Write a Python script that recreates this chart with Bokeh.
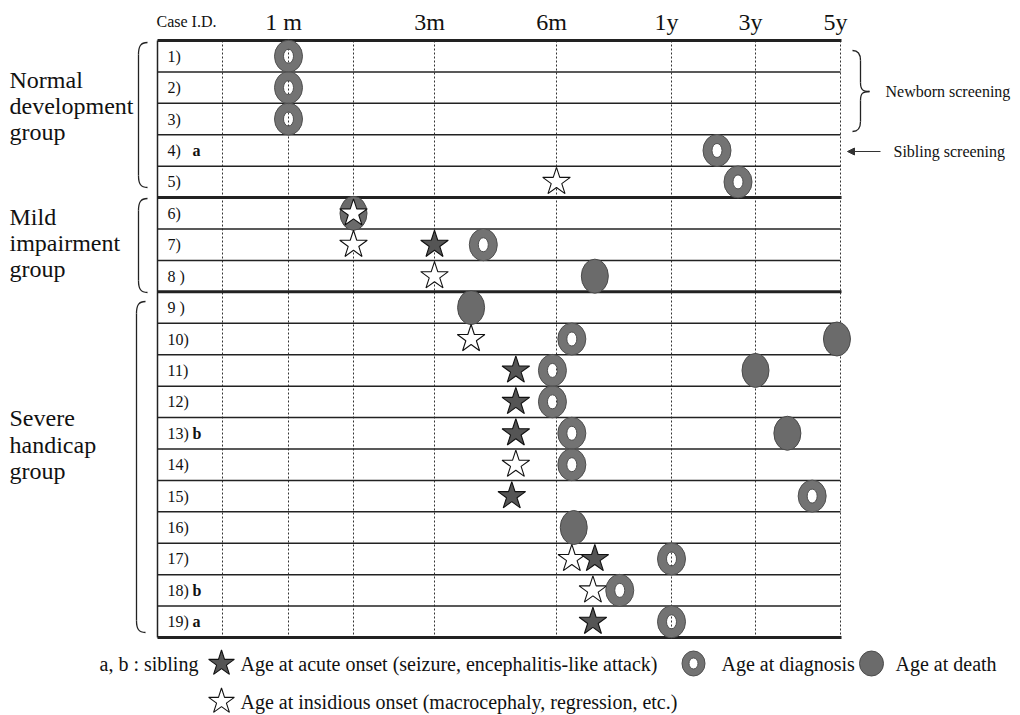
import numpy as np
from bokeh.plotting import figure
from bokeh.models import Range1d, Arrow, NormalHead
from bokeh.core.properties import value
from bokeh.embed import file_html
from bokeh.resources import INLINE

# ---------------- data ----------------
CASE_LABELS = ["1)", "2)", "3)", "4)", "5)", "6)", "7)", "8 )", "9 )", "10)",
               "11)", "12)", "13)", "14)", "15)", "16)", "17)", "18)", "19)"]
SIBLING_MARK = ["", "", "", "a", "", "", "", "", "", "",
                "", "", "b", "", "", "", "", "b", "a"]

TICK_AGES = [1, 3, 6, 12, 36, 60]          # months
TICK_LABELS = ["1 m", "3m", "6m", "1y", "3y", "5y"]

# Age at diagnosis (months)
DIAG_CASE = [1, 2, 3, 4, 5, 7, 10, 11, 12, 13, 14, 15, 17, 18, 19]
DIAG_AGE = [1, 1, 1, 25, 31, 4.2, 6.8, 5.9, 5.9, 6.8, 6.8, 52, 12, 9.3, 12]

# Age at death (months)
DEATH_CASE = [6, 8, 9, 10, 11, 13, 16]
DEATH_AGE = [2, 8, 3.9, 59, 36, 45, 6.9]

# Age at acute onset (months)
ACUTE_CASE = [7, 11, 12, 13, 15, 17, 19]
ACUTE_AGE = [3, 5, 5, 5, 4.9, 8, 7.9]

# Age at insidious onset (months)
INSID_CASE = [5, 6, 7, 8, 10, 14, 17, 18]
INSID_AGE = [6, 2, 2, 3, 3.9, 5, 6.8, 7.9]

GROUP_LINES = [["Normal", "development", "group"],
               ["Mild", "impairment", "group"],
               ["Severe", "handicap", "group"]]

# ---------------- layout ----------------
W, H = 1012, 715
SERIF = "Liberation Serif"
AGE_BREAKS = [0, 1, 2, 3, 6, 12, 36, 60]
X_BREAKS = [222, 288, 353, 434, 556, 671, 755, 840]   # px of grid lines
TABLE_L, TABLE_R = 157, 840
TABLE_T, TABLE_B = 40, 637
NROW = len(CASE_LABELS)
RH = (TABLE_B - TABLE_T) / NROW


def xpos(age):
    return np.interp(age, AGE_BREAKS, X_BREAKS)


def ry(Y):
    return 0.5 + (Y - TABLE_T) / RH


p = figure(width=W, height=H, x_range=Range1d(0, W), y_range=Range1d(ry(H), ry(0)),
           output_backend="svg", toolbar_location=None,
           x_axis_location=None, y_axis_location=None,
           min_border_left=0, min_border_right=0, min_border_top=0, min_border_bottom=0)
p.outline_line_color = None
p.grid.visible = False
p.background_fill_color = "white"

# header: time scale labels (placed through the age scale) and case column title
p.text(x=list(xpos(TICK_AGES) - 5), y=[ry(21)] * len(TICK_AGES), text=TICK_LABELS,
       text_font=value(SERIF), text_font_size="24px", text_align="center",
       text_baseline="middle", text_color="#111")
p.text(x=[186], y=[ry(21)], text=["Case I.D."], text_font=value(SERIF), text_font_size="16px",
       text_align="center", text_baseline="middle", text_color="#111")

# grid (dotted verticals)
gx = list(X_BREAKS)
p.segment(x0=gx, y0=[0.5] * len(gx), x1=gx, y1=[NROW + 0.5] * len(gx),
          line_color="#333", line_width=1, line_dash="2 2")
# left border
p.segment(x0=[TABLE_L], y0=[0.5], x1=[TABLE_L], y1=[NROW + 0.5], line_color="#222", line_width=1.5)

# horizontal rules
bounds = np.arange(0.5, NROW + 1, 1.0)
thick = [0.5, 5.5, 8.5, NROW + 0.5]
thin = [b for b in bounds if b not in thick]
p.segment(x0=[TABLE_L] * len(thin), y0=thin, x1=[TABLE_R] * len(thin), y1=thin,
          line_color="#222", line_width=1.5)
p.segment(x0=[TABLE_L] * len(thick), y0=thick, x1=[TABLE_R + 1] * len(thick), y1=thick,
          line_color="#222", line_width=3)

# row labels
rows = list(range(1, NROW + 1))
p.text(x=[167] * NROW, y=rows, text=CASE_LABELS, text_font=value(SERIF), text_font_size="16px",
       text_baseline="middle", text_align="left", text_color="#111")
sr = [r for r, s in zip(rows, SIBLING_MARK) if s]
ss = [s for s in SIBLING_MARK if s]
p.text(x=[192] * len(sr), y=sr, text=ss, text_font=value(SERIF), text_font_size="16px",
       text_font_style="bold", text_baseline="middle", text_align="left", text_color="#111")

# group labels
GROUP_Y = [[79, 105, 131], [216, 242, 268], [417, 444, 470]]
for lines, ys in zip(GROUP_LINES, GROUP_Y):
    p.text(x=[9] * 3, y=[ry(v) for v in ys], text=lines, text_font=value(SERIF),
           text_font_size="24px", text_baseline="middle", text_align="left", text_color="#111")


# left brackets
def bracket(top, bot, xv=138, xe=147, r=12):
    t, b = top, bot
    p.bezier(x0=[xe, xv], y0=[ry(t), ry(b - r)], x1=[xv, xe], y1=[ry(t + r), ry(b)],
             cx0=[xv + 2, xv], cy0=[ry(t), ry(b - 4)], cx1=[xv, xv + 2], cy1=[ry(t + 4), ry(b)],
             line_color="#222", line_width=1.3)
    p.segment(x0=[xv], y0=[ry(t + r)], x1=[xv], y1=[ry(b - r)], line_color="#222", line_width=1.3)


bracket(42, 187)
bracket(198, 292)
bracket(301, 632, xv=136, xe=145)

# right brace
bx0, bxv, bxt = 852, 860, 869
bt, bm, bb = 50, 91, 131
p.bezier(x0=[bx0, bxv, bxt, bxv], y0=[ry(bt), ry(bm - 9), ry(bm), ry(bb - 10)],
         x1=[bxv, bxt, bxv, bx0], y1=[ry(bt + 10), ry(bm), ry(bm + 9), ry(bb)],
         cx0=[bxv - 2, bxv, bxv + 2, bxv], cy0=[ry(bt), ry(bm - 2), ry(bm), ry(bb - 4)],
         cx1=[bxv, bxv + 2, bxv, bxv - 2], cy1=[ry(bt + 4), ry(bm), ry(bm + 2), ry(bb)],
         line_color="#222", line_width=1.3)
p.segment(x0=[bxv, bxv], y0=[ry(bt + 10), ry(bm + 9)], x1=[bxv, bxv], y1=[ry(bm - 9), ry(bb - 10)],
          line_color="#222", line_width=1.3)
p.text(x=[885], y=[ry(91)], text=["Newborn screening"], text_font=value(SERIF),
       text_font_size="16px", text_baseline="middle", text_color="#111")
p.add_layout(Arrow(end=NormalHead(size=7, fill_color="#333", line_color="#333"),
                   x_start=880, y_start=ry(151), x_end=847, y_end=ry(151),
                   line_color="#333", line_width=1.2))
p.text(x=[893], y=[ry(151)], text=["Sibling screening"], text_font=value(SERIF),
       text_font_size="16px", text_baseline="middle", text_color="#111")

# ---------------- markers ----------------
DEATH_FILL, DEATH_LINE = "#6b6b6b", "#4a4a4a"
RING_COL = "#737373"
STAR_DARK = "#555555"


def death(xs, ys, w=27, h=34):
    p.ellipse(x=xs, y=ys, width=w, height=h, width_units="screen", height_units="screen",
              fill_color=DEATH_FILL, line_color=DEATH_LINE, line_width=1)


def ring(xs, ys, w=28, h=32, t=9):
    p.ellipse(x=xs, y=ys, width=w - t, height=h - t, width_units="screen", height_units="screen",
              fill_alpha=0, line_color=RING_COL, line_width=t)
    p.ellipse(x=xs, y=ys, width=w, height=h, width_units="screen", height_units="screen",
              fill_alpha=0, line_color="#505050", line_width=1)
    p.ellipse(x=xs, y=ys, width=w - 2 * t, height=h - 2 * t, width_units="screen",
              height_units="screen", fill_alpha=0, line_color="#505050", line_width=1)


def star(xs, ys, dark, size=29):
    p.scatter(x=xs, y=ys, marker="star", size=size,
              fill_color=STAR_DARK if dark else "white",
              line_color="#111", line_width=1.1)


death(list(xpos(DEATH_AGE)), DEATH_CASE)
star(list(xpos(INSID_AGE)), INSID_CASE, False)
star(list(xpos(ACUTE_AGE)), ACUTE_CASE, True)
ring(list(xpos(DIAG_AGE)), DIAG_CASE)

# ---------------- legend ----------------
LY1, LY2 = ry(663), ry(701)
LEG_FS = "20px"
p.text(x=[99], y=[LY1], text=["a, b : sibling"], text_font=value(SERIF), text_font_size=LEG_FS,
       text_baseline="middle", text_color="#111")
star([221], [LY1], True, size=27)
p.text(x=[240], y=[LY1], text=["Age at acute onset (seizure, encephalitis-like attack)"],
       text_font=value(SERIF), text_font_size=LEG_FS, text_baseline="middle", text_color="#111")
ring([693], [LY1], w=23, h=25, t=7)
p.text(x=[721], y=[LY1], text=["Age at diagnosis"], text_font=value(SERIF), text_font_size=LEG_FS,
       text_baseline="middle", text_color="#111")
death([871], [LY1], w=24, h=25)
p.text(x=[895], y=[LY1], text=["Age at death"], text_font=value(SERIF), text_font_size=LEG_FS,
       text_baseline="middle", text_color="#111")
star([221], [LY2], False, size=27)
p.text(x=[240], y=[LY2], text=["Age at insidious onset (macrocephaly, regression, etc.)"],
       text_font=value(SERIF), text_font_size=LEG_FS, text_baseline="middle", text_color="#111")

open("out.html", "w").write(file_html(p, INLINE))
